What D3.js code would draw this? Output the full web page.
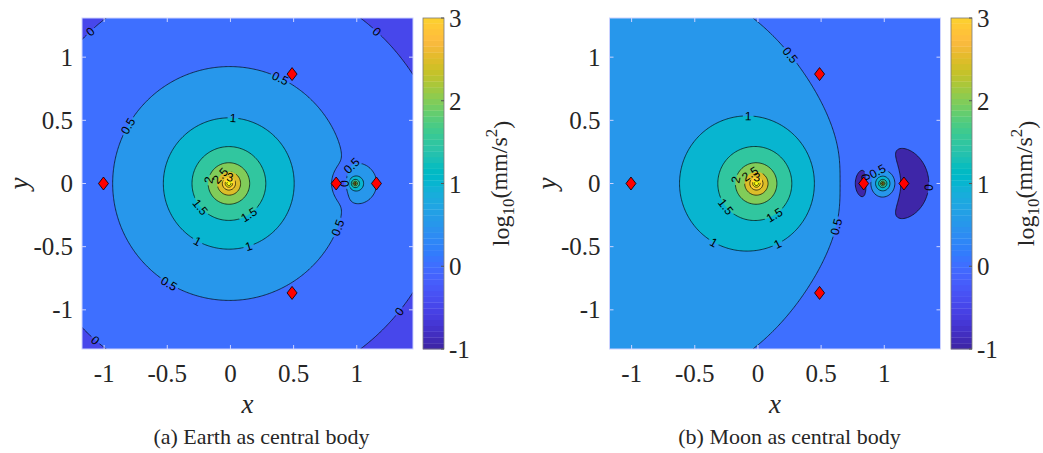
<!DOCTYPE html>
<html>
<head>
<meta charset="utf-8">
<script src="https://cdn.jsdelivr.net/npm/d3@7"></script>
<style>
  body { margin: 0; background: #fff; }
  svg text { font-family: "Liberation Serif", "Times New Roman", serif; fill: #262626; }
  svg text.clabel { font-family: "Liberation Sans", Arial, sans-serif; font-size: 12px; fill: #000; }
</style>
</head>
<body>
<svg id="fig" width="1043" height="453"></svg>
<script>
// ---- values ----
var captions = ["(a) Earth as central body", "(b) Moon as central body"];
var centralBody = [0, 1], perturber = [1, 0];   // index into bodies
var bodyX = [-0.01215, 0.98785];                // barycentric x of Earth, Moon
var bodyGM = [2.698, 0.0332];                   // mm/s^2 at one Earth-Moon distance
var levels = [0, 0.5, 1, 1.5, 2, 2.5, 3, 3.5, 4];
var floorLevel = [-0.5, -1];                    // colour of the region under the lowest level
var clim = [-1, 3.5];
var cbTicks = [-1, 0, 1, 2, 3];
var xTicks = [-1, -0.5, 0, 0.5, 1];
var yTicks = [-1, -0.5, 0, 0.5, 1];
var xDomain = [-1.175, 1.445], yDomain = [-1.31, 1.31];
var lagrangeX = [0.8369, 1.1557, -1.0051, 0.4878, 0.4878];
var lagrangeY = [0, 0, 0, 0.8660, -0.8660];

// contour labels: [level, x, y]
var earthLabels = [
  [0, -1.114, 1.208], [0, 1.158, 1.201], [0, 1.351, -1.025], [0, -1.082, -1.255],
  [0.5, 0.392, 0.826], [0.5, -0.796, 0.446], [0.5, 0.860, -0.354], [0.5, -0.495, -0.806],
  [0.5, 0.979, 0.105], [0, 0.889, 0.0],
  [1, 0.020, 0.517], [1, -0.265, -0.465], [1, 0.147, -0.505],
  [1.5, -0.242, -0.188], [1.5, 0.139, -0.235],
  [2, -0.162, 0.026], [2.5, -0.059, 0.042], [3, 0.0, 0.066]
];
var moonLabels = [
  [0.5, 0.256, 1.017], [0.5, 0.636, -0.346],
  [1, -0.077, 0.524], [1, -0.354, -0.473], [1, 0.161, -0.489],
  [1.5, -0.259, -0.188], [1.5, 0.121, -0.235],
  [2, -0.156, 0.026], [2.5, -0.045, 0.050], [3, -0.006, 0.066],
  [0, 0.850, 0.050], [0.5, 0.953, 0.082], [0, 1.357, -0.032]
];
var panelLabels = [earthLabels, moonLabels];

var parula = [
[0.2422,0.1504,0.6603],[0.2504,0.1650,0.7076],[0.2578,0.1818,0.7511],[0.2647,0.1978,0.7952],
[0.2706,0.2147,0.8364],[0.2751,0.2342,0.8710],[0.2783,0.2559,0.8991],[0.2803,0.2782,0.9221],
[0.2813,0.3006,0.9414],[0.2810,0.3228,0.9579],[0.2795,0.3447,0.9717],[0.2760,0.3667,0.9829],
[0.2699,0.3892,0.9906],[0.2602,0.4123,0.9952],[0.2440,0.4358,0.9988],[0.2206,0.4603,0.9973],
[0.1963,0.4847,0.9892],[0.1834,0.5074,0.9798],[0.1786,0.5289,0.9682],[0.1764,0.5499,0.9520],
[0.1687,0.5703,0.9359],[0.1540,0.5902,0.9218],[0.1460,0.6091,0.9079],[0.1380,0.6276,0.8973],
[0.1248,0.6459,0.8883],[0.1113,0.6635,0.8763],[0.0952,0.6798,0.8598],[0.0689,0.6948,0.8394],
[0.0297,0.7082,0.8163],[0.0036,0.7203,0.7917],[0.0067,0.7312,0.7660],[0.0433,0.7411,0.7394],
[0.0964,0.7500,0.7120],[0.1408,0.7584,0.6842],[0.1717,0.7670,0.6554],[0.1938,0.7758,0.6251],
[0.2161,0.7843,0.5923],[0.2470,0.7918,0.5567],[0.2906,0.7973,0.5188],[0.3406,0.8008,0.4789],
[0.3909,0.8029,0.4354],[0.4456,0.8024,0.3909],[0.5044,0.7993,0.3480],[0.5616,0.7942,0.3045],
[0.6174,0.7876,0.2612],[0.6720,0.7793,0.2227],[0.7242,0.7698,0.1910],[0.7738,0.7598,0.1646],
[0.8203,0.7498,0.1535],[0.8634,0.7406,0.1596],[0.9035,0.7330,0.1774],[0.9393,0.7288,0.2100],
[0.9728,0.7298,0.2394],[0.9956,0.7434,0.2371],[0.9970,0.7659,0.2199],[0.9952,0.7893,0.2028],
[0.9892,0.8136,0.1885],[0.9786,0.8386,0.1766],[0.9676,0.8639,0.1643],[0.9610,0.8890,0.1537],
[0.9597,0.9135,0.1423],[0.9628,0.9373,0.1265],[0.9691,0.9606,0.1064],[0.9769,0.9839,0.0805]
];

// ---- layout ----
var plotLeft = [82, 609.5], plotTop = 18, plotSize = 331;
var cbLeft = [423, 951], cbWidth = 21;
var cbLabelX = [500, 1025];
var step = 0.01;

var svg = d3.select("#fig");
svg.append("rect").attr("width", 1043).attr("height", 453).attr("fill", "#fff");
var defs = svg.append("defs");

function cmap(v) {
  var t = (v - clim[0]) / (clim[1] - clim[0]);
  var k = Math.max(0, Math.min(63, Math.floor(t * 64)));
  var c = parula[k];
  return d3.rgb(c[0] * 255, c[1] * 255, c[2] * 255).formatHex();
}

// log10 of acceleration magnitude relative to the central body
function field(x, y, c, p) {
  var dxc = x - bodyX[c], rc2 = dxc * dxc + y * y, rc3 = rc2 * Math.sqrt(rc2);
  var dxp = x - bodyX[p], rp2 = dxp * dxp + y * y, rp3 = rp2 * Math.sqrt(rp2);
  var dcp = bodyX[c] - bodyX[p], dcp3 = Math.pow(Math.abs(dcp), 3);
  var ax = -bodyGM[c] * dxc / rc3 - bodyGM[p] * dxp / rp3 + bodyGM[p] * dcp / dcp3;
  var ay = -bodyGM[c] * y / rc3 - bodyGM[p] * y / rp3;
  var v = Math.log10(Math.hypot(ax, ay));
  return isFinite(v) ? Math.max(-3, Math.min(6, v)) : 6;
}

function drawPanel(p) {
  var c = centralBody[p], q = perturber[p];
  var x = d3.scaleLinear().domain(xDomain).range([plotLeft[p], plotLeft[p] + plotSize]);
  var y = d3.scaleLinear().domain(yDomain).range([plotTop + plotSize, plotTop]);

  var nx = Math.round((xDomain[1] - xDomain[0]) / step) + 1;
  var ny = Math.round((yDomain[1] - yDomain[0]) / step) + 1;
  var values = new Float64Array(nx * ny);
  for (var j = 0; j < ny; j++)
    for (var i = 0; i < nx; i++)
      values[j * nx + i] = field(xDomain[0] + i * step, yDomain[0] + j * step, c, q);

  var contours = d3.contours().size([nx, ny]).thresholds(levels)(values);
  var gx = function(v) { return x(xDomain[0] + (v - 0.5) * step); };
  var gy = function(v) { return y(yDomain[0] + (v - 0.5) * step); };
  function pathOf(geom) {
    return geom.coordinates.map(function(poly) {
      return poly.map(function(ring) {
        return "M" + ring.map(function(pt) { return gx(pt[0]).toFixed(2) + "," + gy(pt[1]).toFixed(2); }).join("L") + "Z";
      }).join("");
    }).join("");
  }

  defs.append("clipPath").attr("id", "clip" + p)
    .append("rect").attr("x", plotLeft[p]).attr("y", plotTop).attr("width", plotSize).attr("height", plotSize);

  var g = svg.append("g").attr("clip-path", "url(#clip" + p + ")");
  g.append("rect").attr("x", plotLeft[p]).attr("y", plotTop).attr("width", plotSize).attr("height", plotSize)
    .attr("fill", cmap(floorLevel[p]));

  g.selectAll("path.fill").data(contours).enter().append("path")
    .attr("class", "fill")
    .attr("d", pathOf)
    .attr("fill", function(d) { return cmap(d.value); })
    .attr("fill-rule", "evenodd");

  var mask = defs.append("mask").attr("id", "lblmask" + p).attr("maskUnits", "userSpaceOnUse")
    .attr("x", 0).attr("y", 0).attr("width", 1043).attr("height", 453);
  mask.append("rect").attr("width", 1043).attr("height", 453).attr("fill", "#fff");

  g.append("g").attr("mask", "url(#lblmask" + p + ")")
    .selectAll("path").data(contours).enter().append("path")
    .attr("d", pathOf)
    .attr("fill", "none").attr("stroke", "#000").attr("stroke-width", 0.75).attr("stroke-opacity", 0.9)
    .attr("fill-rule", "evenodd");

  // contour labels, moved onto their line and turned along it
  panelLabels[p].forEach(function(l) {
    var lev = l[0], lx = l[1], ly = l[2], h = 1e-5;
    var grad = function(a, b) {
      return [(field(a + h, b, c, q) - field(a - h, b, c, q)) / (2 * h),
              (field(a, b + h, c, q) - field(a, b - h, c, q)) / (2 * h)];
    };
    for (var k = 0; k < 25; k++) {
      var v = field(lx, ly, c, q), gr = grad(lx, ly), g2 = gr[0] * gr[0] + gr[1] * gr[1];
      if (!(g2 > 0)) break;
      var s = (v - lev) / g2, dx = s * gr[0], dy = s * gr[1], len = Math.hypot(dx, dy);
      if (len > 0.03) { dx *= 0.03 / len; dy *= 0.03 / len; }
      lx -= dx; ly -= dy;
      if (len < 1e-6) break;
    }
    var gr2 = grad(lx, ly);
    var ang = Math.atan2(gr2[0], gr2[1]) * 180 / Math.PI;
    if (ang > 90) ang -= 180;
    if (ang <= -90) ang += 180;
    var tr = "translate(" + x(lx).toFixed(2) + "," + y(ly).toFixed(2) + ") rotate(" + ang.toFixed(1) + ")";
    var t = g.append("text").attr("class", "clabel").attr("transform", tr)
      .attr("text-anchor", "middle").attr("dy", "0.36em").text(String(lev));
    var w = t.node().getComputedTextLength();
    mask.append("rect").attr("transform", tr)
      .attr("x", -w / 2 - 2).attr("y", -5.5).attr("width", w + 4).attr("height", 11).attr("fill", "#000");
  });

  // Lagrange points
  svg.append("g").selectAll("path").data(lagrangeX).enter().append("path")
    .attr("transform", function(d, i) { return "translate(" + x(d) + "," + y(lagrangeY[i]) + ")"; })
    .attr("d", "M0,-6.5L5,0L0,6.5L-5,0Z")
    .attr("fill", "#ff0000").attr("stroke", "#000").attr("stroke-width", 0.8);

  // axes box and inward ticks
  var ax = svg.append("g");
  ax.append("rect").attr("x", plotLeft[p]).attr("y", plotTop).attr("width", plotSize).attr("height", plotSize)
    .attr("fill", "none").attr("stroke", "#cdd3ff").attr("stroke-width", 1);
  xTicks.forEach(function(t) {
    ax.append("line").attr("x1", x(t)).attr("x2", x(t)).attr("y1", plotTop + plotSize).attr("y2", plotTop + plotSize - 4)
      .attr("stroke", "#cdd3ff");
    ax.append("line").attr("x1", x(t)).attr("x2", x(t)).attr("y1", plotTop).attr("y2", plotTop + 4)
      .attr("stroke", "#cdd3ff");
    ax.append("text").attr("x", x(t)).attr("y", 382).attr("text-anchor", "middle")
      .style("font-size", "25px").text(String(t));
  });
  yTicks.forEach(function(t) {
    ax.append("line").attr("x1", plotLeft[p]).attr("x2", plotLeft[p] + 4).attr("y1", y(t)).attr("y2", y(t))
      .attr("stroke", "#cdd3ff");
    ax.append("line").attr("x1", plotLeft[p] + plotSize).attr("x2", plotLeft[p] + plotSize - 4).attr("y1", y(t)).attr("y2", y(t))
      .attr("stroke", "#cdd3ff");
    ax.append("text").attr("x", plotLeft[p] - 9).attr("y", y(t)).attr("dy", "0.34em").attr("text-anchor", "end")
      .style("font-size", "25px").text(String(t));
  });
  var xc = plotLeft[p] + plotSize / 2;
  ax.append("text").attr("x", xc).attr("y", 413).attr("text-anchor", "middle")
    .style("font-size", "27px").style("font-style", "italic").text("x");
  ax.append("text").attr("transform", "translate(" + (plotLeft[p] - 54) + "," + (plotTop + plotSize / 2) + ") rotate(-90)")
    .attr("text-anchor", "middle").style("font-size", "27px").style("font-style", "italic").text("y");
  ax.append("text").attr("x", [261.5, 789.5][p]).attr("y", 444).attr("text-anchor", "middle")
    .style("font-size", "22px").text(captions[p]);

  // colorbar
  var cy = d3.scaleLinear().domain([clim[0], cbTicks[cbTicks.length - 1]]).range([plotTop + plotSize, plotTop]);
  var cb = svg.append("g");
  d3.range(64).forEach(function(k) {
    var v0 = clim[0] + (clim[1] - clim[0]) * k / 64;
    var v1 = Math.min(cy.domain()[1], clim[0] + (clim[1] - clim[0]) * (k + 1) / 64);
    if (v0 >= v1) return;
    cb.append("rect").attr("x", cbLeft[p]).attr("y", cy(v1)).attr("width", cbWidth)
      .attr("height", cy(v0) - cy(v1) + 0.3).attr("fill", cmap(v0 + 1e-9));
  });
  cb.append("rect").attr("x", cbLeft[p]).attr("y", plotTop).attr("width", cbWidth).attr("height", plotSize)
    .attr("fill", "none").attr("stroke", "#7a7a7a").attr("stroke-width", 0.8);
  cbTicks.forEach(function(t) {
    cb.append("line").attr("x1", cbLeft[p] + cbWidth).attr("x2", cbLeft[p] + cbWidth - 3)
      .attr("y1", cy(t)).attr("y2", cy(t)).attr("stroke", "#555");
    cb.append("text").attr("x", cbLeft[p] + cbWidth + 5).attr("y", cy(t)).attr("dy", "0.36em")
      .style("font-size", "25px").text(String(t));
  });
  var lab = cb.append("text").attr("transform", "translate(" + cbLabelX[p] + "," + (plotTop + plotSize / 2) + ") rotate(-90)")
    .attr("text-anchor", "middle").attr("dy", "0.36em").style("font-size", "24px");
  lab.append("tspan").text("log");
  lab.append("tspan").attr("dy", "0.3em").style("font-size", "17px").text("10");
  lab.append("tspan").attr("dy", "-0.3em").text("(mm/s");
  lab.append("tspan").attr("dy", "-0.55em").style("font-size", "17px").text("2");
  lab.append("tspan").attr("dy", "0.55em").text(")");
}

drawPanel(0);
drawPanel(1);
</script>
</body>
</html>
